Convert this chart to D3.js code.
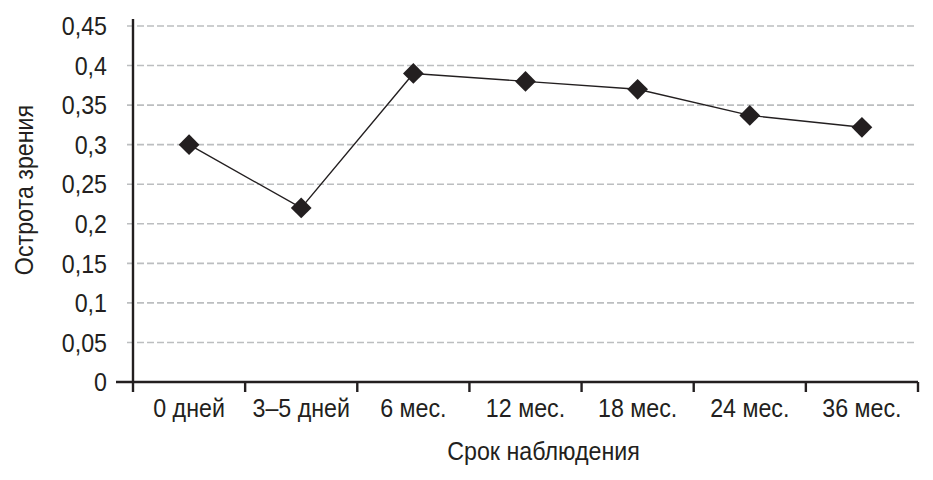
<!DOCTYPE html>
<html><head><meta charset="utf-8">
<script src="https://cdn.jsdelivr.net/npm/d3@7"></script>
<style>
body{margin:0;background:#fff;}
text{font-family:"Liberation Sans",Arial,sans-serif;fill:#231f20;}
</style></head>
<body><svg id="c" width="933" height="480"></svg>
<script>
const categories = ["0 дней","3–5 дней","6 мес.","12 мес.","18 мес.","24 мес.","36 мес."];
const values = [0.30, 0.22, 0.39, 0.38, 0.37, 0.337, 0.322];
const yTicks = [0,0.05,0.1,0.15,0.2,0.25,0.3,0.35,0.4,0.45];
const yTitle = "Острота зрения";
const xTitle = "Срок наблюдения";

(function(){
const svg = d3.select("#c");
const mL = 133, mR = 918, mT = 26, mB = 382;
const FS = 25, SX = 0.93;
const x = d3.scaleBand().domain(categories).range([mL, mR]);
const y = d3.scaleLinear().domain([0,0.45]).range([mB, mT]);
const fmt = d => String(+d.toFixed(2)).replace(".", ",");

// gridlines
svg.append("g").selectAll("line").data(yTicks.filter(d=>d>0)).join("line")
  .attr("x1", 127).attr("x2", 915)
  .attr("y1", d=>y(d)).attr("y2", d=>y(d))
  .attr("stroke", "#bcbec0").attr("stroke-width", 1.6).attr("stroke-dasharray", "7,3");

// y axis
const ya = svg.append("g").attr("transform", `translate(${mL},0)`)
  .call(d3.axisLeft(y).tickValues(yTicks).tickFormat(fmt).tickSize(0).tickPadding(26));
ya.select(".domain").attr("stroke", "#231f20").attr("stroke-width", 2.4).attr("d", `M0,${mT-7}V${mB}`);
ya.selectAll("text").attr("font-size", FS).attr("font-family", null)
  .attr("x", -26/SX).attr("dy", "0.35em").attr("transform", `scale(${SX},1)`);

// x axis
const xa = svg.append("g").attr("transform", `translate(0,${mB})`)
  .call(d3.axisBottom(x).tickSize(0).tickPadding(17));
xa.select(".domain").attr("stroke", "#231f20").attr("stroke-width", 2.4).attr("d", `M116,0H${mR}`);
xa.selectAll("text").attr("font-size", FS).attr("font-family", null)
  .attr("transform", `scale(${SX},1)`);
const tickXs = categories.map(d => x(d)).concat([mR]);
xa.append("g").selectAll("line").data(tickXs).join("line")
  .attr("x1", d=>d).attr("x2", d=>d)
  .attr("y1", 0).attr("y2", 10).attr("stroke", "#231f20").attr("stroke-width", 2.4);

// line
const cx = d => x(d) + x.bandwidth()/2;
svg.append("path")
  .attr("fill","none").attr("stroke","#231f20").attr("stroke-width",1.4)
  .attr("d", d3.line().x(d=>cx(d)).y((d,i)=>y(values[i]))(categories));

svg.append("g").selectAll("path").data(categories).join("path")
  .attr("d", d3.symbol(d3.symbolSquare, 215)())
  .attr("transform", (d,i)=>`translate(${cx(d)},${y(values[i])}) rotate(45)`)
  .attr("fill", "#231f20");

// titles
svg.append("text").attr("transform", `translate(543.5,460) scale(${SX},1)`)
  .attr("text-anchor","middle").attr("font-size", FS).text(xTitle);
svg.append("text").attr("transform", `translate(33,190) rotate(-90) scale(${SX},1)`)
  .attr("text-anchor","middle").attr("font-size", FS).text(yTitle);
})();
</script></body></html>
